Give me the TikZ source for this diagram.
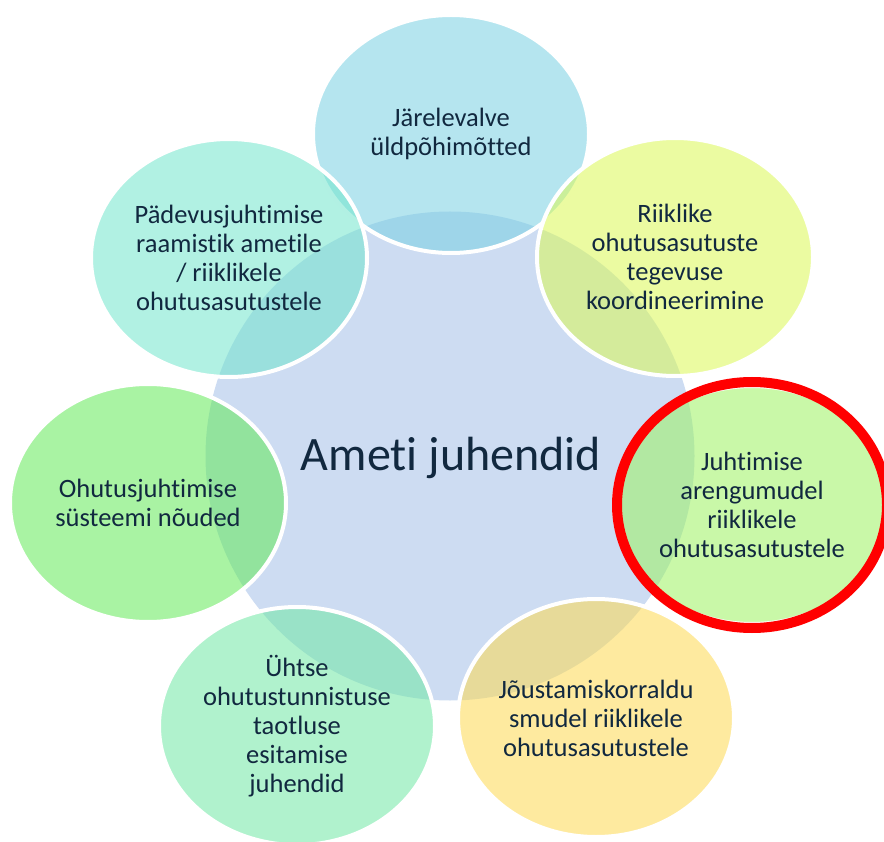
\documentclass[tikz,border=0pt]{standalone}
\usepackage{fontspec}
\setmainfont{Carlito}[Ligatures={NoCommon}]
\usetikzlibrary{shapes.geometric}
\definecolor{hubblue}{HTML}{CDDCF2}
\definecolor{ink}{HTML}{11283F}
\definecolor{ringred}{HTML}{FF0000}
\definecolor{ptop}{HTML}{78D0E2}
\definecolor{pne}{HTML}{DBF854}
\definecolor{pe}{HTML}{9DF261}
\definecolor{pse}{HTML}{FDD950}
\definecolor{psw}{HTML}{6FE7A4}
\definecolor{pw}{HTML}{62E958}
\definecolor{pnw}{HTML}{71E5CC}
\tikzset{
  hub/.style={circle, fill=hubblue, minimum size=489pt, inner sep=0pt},
  hubtext/.style={anchor=base, text=ink, font=\fontsize{48}{58}\selectfont},
  petal/.style={ellipse, draw=white, line width=4pt, fill opacity=0.55,
    minimum width=276pt, minimum height=238pt, inner sep=0pt},
  petaltext/.style={align=center, text=ink, font=\fontsize{26.5}{29}\selectfont},
  focusring/.style={ellipse, draw=ringred, line width=10pt,
    minimum width=270pt, minimum height=246pt, inner sep=0pt}
}

\begin{document}
\begin{tikzpicture}[x=1pt, y=-1pt]
  \useasboundingbox (0,0) rectangle (884,842);
  % Central circle
  \node[hub] (hub) at (450,456) {};
  \node[hubtext] (title) at (451,470) {Ameti juhendid};
  % Surrounding ellipses, clockwise from the top
  \foreach \n/\x/\y/\c/\t in {
      jarel/451/134/ptop/{Järelevalve\\üldpõhimõtted},
      riik/675/257/pne/{Riiklike\\ohutusasutuste\\tegevuse\\koordineerimine},
      areng/752/505/pe/{Juhtimise\\arengumudel\\riiklikele\\ohutusasutustele},
      joust/596/718/pse/{Jõustamiskorraldu\\smudel riiklikele\\ohutusasutustele},
      yhtne/297/726/psw/{Ühtse\\ohutustunnistuse\\taotluse\\esitamise\\juhendid},
      ohutus/148/503/pw/{Ohutusjuhtimise\\süsteemi nõuded},
      padev/229/258/pnw/{Pädevusjuhtimise\\raamistik ametile\\/ riiklikele\\ohutusasutustele}}
  {
    \node[petal, fill=\c] (\n) at (\x,\y) {};
    \node[petaltext] (\n txt) at (\n) {\t};
  }
  % Highlight
  \node[focusring] (focus) at (areng) {};
\end{tikzpicture}
\end{document}
